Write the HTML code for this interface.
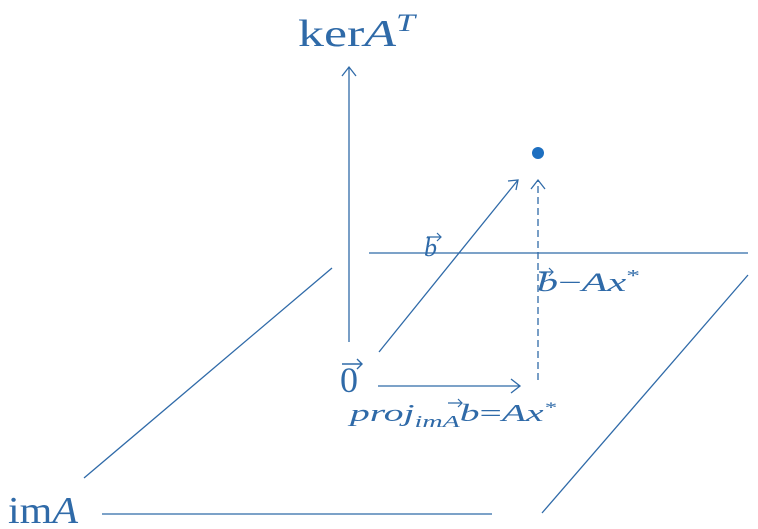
<!DOCTYPE html>
<html><head><meta charset="utf-8"><style>
html,body{margin:0;padding:0;background:#fff;}
svg{display:block;}
text{fill:#2f6aa8;font-family:"Liberation Serif",serif;}
</style></head><body>
<svg width="758" height="529" viewBox="0 0 758 529">
<g stroke="#2f6aa8" stroke-width="1.3" fill="none">
  <line x1="349" y1="342" x2="349" y2="68"/>
  <path d="M342 76 L349 67 L356 76"/>
  <line x1="379" y1="352" x2="518" y2="180"/>
  <path d="M508 181 L518 180 L516 190"/>
  <line x1="538" y1="380" x2="538" y2="181" stroke-dasharray="7,4"/>
  <path d="M531 189 L538 180 L545 189"/>
  <line x1="369" y1="253" x2="748" y2="253"/>
  <line x1="84" y1="478" x2="332" y2="268"/>
  <line x1="542" y1="513" x2="748" y2="275"/>
  <line x1="102" y1="514" x2="492" y2="514"/>
  <line x1="378" y1="386" x2="519" y2="386"/>
  <path d="M511 379 L520 386 L511 393"/>
</g>
<circle cx="538" cy="153" r="6" fill="#1e6fc0"/>
<text x="298" y="46" font-size="38" textLength="117" lengthAdjust="spacingAndGlyphs">ker<tspan font-style="italic">A</tspan><tspan font-style="italic" font-size="25" dy="-15">T</tspan></text>
<text x="8" y="523" font-size="38" textLength="70" lengthAdjust="spacingAndGlyphs">im<tspan font-style="italic">A</tspan></text>
<text x="340" y="392" font-size="36">0</text>
<path d="M342 364 L362 364 M357 359 L362 364 L357 369" stroke="#2f6aa8" stroke-width="1.4" fill="none"/>
<text x="424" y="256" font-size="26" font-style="italic">b</text>
<path d="M427 237 L441 237 M437 233 L441 237 L437 241" stroke="#2f6aa8" stroke-width="1.2" fill="none"/>
<text x="537" y="291" font-size="26" textLength="103" lengthAdjust="spacingAndGlyphs"><tspan font-style="italic">b</tspan>−<tspan font-style="italic">Ax</tspan><tspan font-size="17" dy="-10">*</tspan></text>
<path d="M539 272 L553 272 M549 268 L553 272 L549 276" stroke="#2f6aa8" stroke-width="1.2" fill="none"/>
<text x="350" y="421" font-size="24" font-style="italic" textLength="206" lengthAdjust="spacingAndGlyphs">proj<tspan font-size="17" dy="6">imA</tspan><tspan dy="-6">b</tspan><tspan font-style="normal">=</tspan>Ax<tspan font-size="15" dy="-9">*</tspan></text>
<path d="M448 403 L462 403 M458 399 L462 403 L458 407" stroke="#2f6aa8" stroke-width="1.2" fill="none"/>
</svg>
</body></html>
